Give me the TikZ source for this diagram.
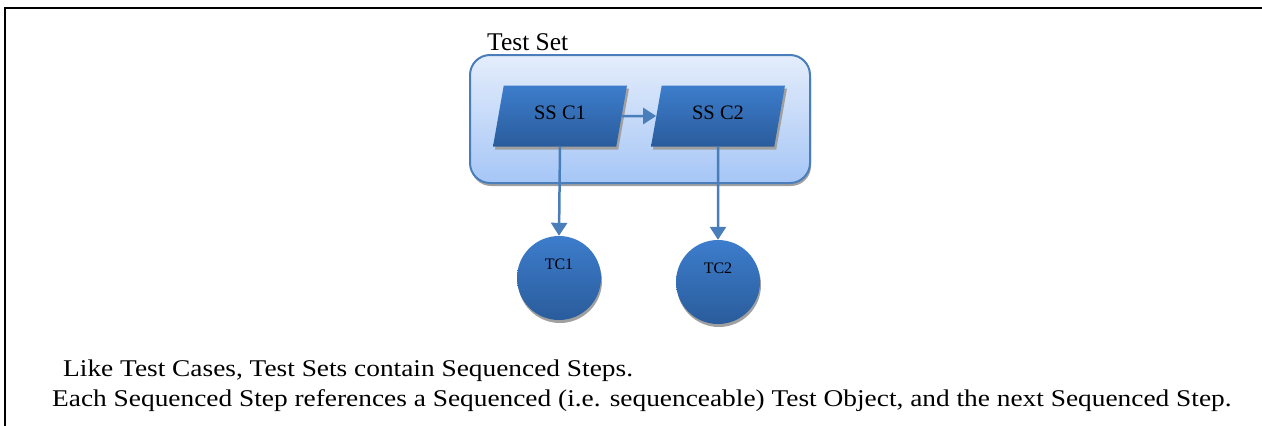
\documentclass[tikz,border=0pt]{standalone}
\usepackage{fontspec}
\setmainfont{Liberation Serif}
\newfontfamily\widefont[FakeStretch=1.14]{Liberation Serif}
\usetikzlibrary{shapes.geometric,shadows,arrows.meta}
\definecolor{linkblue}{HTML}{4A7EBB}
\definecolor{settop}{HTML}{E4EDFB}
\definecolor{setbot}{HTML}{A6C6F6}
\definecolor{steptop}{HTML}{3D7DCC}
\definecolor{stepbot}{HTML}{2A5C9C}
\definecolor{shade}{HTML}{A0A0A0}

\begin{document}
\begin{tikzpicture}[x=1pt,y=-1pt,
    stepbox/.style={trapezium, trapezium left angle=80, trapezium right angle=100,
      trapezium stretches body=true, minimum width=134pt, text height=34pt, text depth=27pt,
      inner sep=0pt, top color=steptop, bottom color=stepbot, font=\fontsize{20.5}{24}\selectfont,
      drop shadow={shadow xshift=2pt, shadow yshift=-3pt, fill=shade, opacity=1}},
    tccircle/.style={circle, minimum size=84pt, inner sep=0pt,
      top color=steptop, bottom color=stepbot,
      drop shadow={shadow xshift=1pt, shadow yshift=-3pt, fill=shade, opacity=1}},
    tclabel/.style={yshift=14pt, font=\fontsize{16}{18}\selectfont},
    note/.style={anchor=base west, inner sep=0pt, font=\widefont\fontsize{24}{28}\selectfont},
    link/.style={draw=linkblue, line width=2.5pt, -{Triangle[length=13pt,width=16pt]}}]
  \path[use as bounding box] (0,0) rectangle (1262,426);
  \draw[line width=2pt] (5,426) -- (5,8) -- (1262,8);

  \node (set) [draw=linkblue, line width=2pt, rounded corners=20pt, minimum width=340pt,
    minimum height=128pt, top color=settop, bottom color=setbot,
    drop shadow={shadow xshift=1pt, shadow yshift=-3pt, fill=shade, opacity=1}] at (640,119) {};
  \node (setlabel) [anchor=base west, inner sep=0pt, font=\fontsize{25.5}{28}\selectfont] at (487,50) {Test Set};

  \node (c1) [stepbox] at (560,116) {SS C1};
  \node (c2) [stepbox] at (718,116) {SS C2};
  \node (tc1) [tccircle, label={[tclabel]center:TC1}] at (559,278) {};
  \node (tc2) [tccircle, label={[tclabel]center:TC2}] at (718,282) {};

  \draw[link] (c1) -- (c2);
  \draw[link] (c1.south) -- (tc1.north);
  \draw[link] (c2.south) -- (tc2.north);

  \node (line1) [note] at (63,376) {Like Test Cases, Test Sets contain Sequenced Steps.};
  \node (line2) [note] at (52,406)
    {Each Sequenced Step references a Sequenced (i.e. sequenceable) Test Object, and the next Sequenced Step.};
\end{tikzpicture}
\end{document}
